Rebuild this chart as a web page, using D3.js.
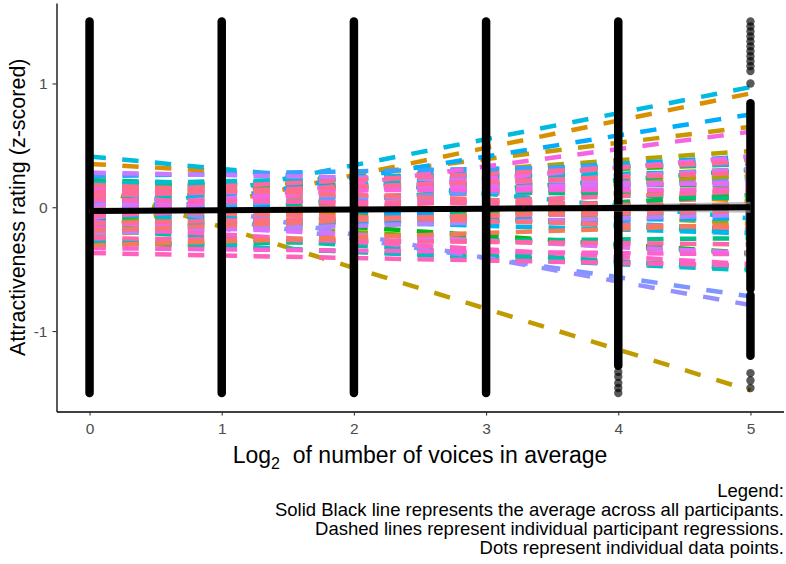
<!DOCTYPE html>
<html>
<head>
<meta charset="utf-8">
<script src="https://cdn.jsdelivr.net/npm/d3@7"></script>
<style>
  body { margin: 0; background: #fff; }
  text { font-family: "Liberation Sans", Arial, sans-serif; }
</style>
</head>
<body>
<script>
// x levels (log2 of number of voices)
const levels = [0, 1, 2, 3, 4, 5];

// participant regression lines: value at x=0 and value at x=5 (drawing order)
const lineStart = [
   0.05, -0.12,  0.14, -0.22,  0.02,  0.35, -0.18,  0.10,  0.00,  0.17,
   0.08, -0.05,  0.12, -0.15,  0.20, -0.08,  0.06, -0.28,  0.15, -0.02,
   0.18, -0.20,  0.03, -0.10,  0.22, -0.30,  0.09, -0.18,  0.13,  0.04,
  -0.26,  0.19,  0.41, -0.08, -0.06,  0.11, -0.14, -0.10,  0.07,  0.25,
  -0.03,  0.055, 0.16,  0.17, -0.21,  0.28,  0.01, -0.12,  0.10, -0.04,
  -0.09,  0.14, -0.33, -0.16, -0.37,  0.06, -0.07,  0.12, -0.13, -0.02,
  -0.25,  0.09,  0.18, -0.19, -0.31
];
const lineEnd = [
   0.15,  0.08, -0.01,  0.03, -0.18,  0.05,  0.92,  0.25,  0.65, -1.48,
   0.455, 0.25, -0.13,  0.00,  0.10, -0.38,  0.31, -0.48,  0.35, -0.37,
   0.18,  0.10, -0.07,  0.30,  0.07, -0.25, -0.21, -0.50,  0.38,  0.39,
  -0.51,  0.29, -0.09,  0.97, -0.21,  0.41, -0.09,  0.75, -0.18,  0.35,
   0.22, -0.72, -0.79, -0.03, -0.06,  0.18,  0.31, -0.37,  0.20,  0.41,
   0.61,  0.14, -0.38, -0.46, -0.47,  0.01,  0.13,  0.37, -0.03, -0.17,
  -0.30,  0.28, -0.02,  0.02, -0.14
];

// dense runs of data points (rendered as solid columns)
const runLevel = [0, 1, 2, 3, 4, 5, 5];
const runLow   = [-1.5, -1.5, -1.5, -1.5, -1.28, -0.66, -1.2];
const runHigh  = [ 1.5,  1.5,  1.5,  1.5,  1.5,   0.84, -0.71];

// isolated data points
const pointLevel = [4, 4, 4, 4, 4,
                    5, 5, 5, 5, 5, 5, 5, 5, 5, 5, 5, 5, 5, 5, 5];
const pointValue = [-1.33, -1.37, -1.42, -1.46, -1.5,
                    1.5, 1.46, 1.42, 1.38, 1.34, 1.3, 1.26, 1.22, 1.18, 1.14, 1.1,
                    1.0, -1.34, -1.4, -1.46];

// average across participants + confidence band
const avgX     = [0, 1, 2, 3, 4, 5];
const avgY     = [-0.03, -0.024, -0.018, -0.012, -0.006, 0.0];
const avgLower = [-0.05, -0.039, -0.03, -0.027, -0.034, -0.045];
const avgUpper = [-0.01, -0.009, -0.006, 0.003, 0.022, 0.045];

const yTicks = [-1, 0, 1];
const legendLines = [
  "Legend:",
  "Solid Black line represents the average across all participants.",
  "Dashed lines represent individual participant regressions.",
  "Dots represent individual data points."
];

const width = 786;
const height = 564;

// ggplot-like hue palette (polarLUV, c=100, l=65)
const hueColor = (h) => {
  const L = 65, C = 100;
  const hr = h * Math.PI / 180;
  const u = C * Math.cos(hr), v = C * Math.sin(hr);
  const Xn = 95.047, Yn = 100, Zn = 108.883;
  const Y = Yn * Math.pow((L + 16) / 116, 3);
  const den = Xn + 15 * Yn + 3 * Zn;
  const up = u / (13 * L) + 4 * Xn / den;
  const vp = v / (13 * L) + 9 * Yn / den;
  const X = 9 * Y * up / (4 * vp);
  const Z = 3 * Y / vp - X / 3 - 5 * Y;
  const x = X / 100, y = Y / 100, z = Z / 100;
  const lin = [
     3.2404542 * x - 1.5371385 * y - 0.4985314 * z,
    -0.9692660 * x + 1.8760108 * y + 0.0415560 * z,
     0.0556434 * x - 0.2040259 * y + 1.0572252 * z
  ];
  const rgb = lin.map(c => {
    const g = c <= 0.0031308 ? 12.92 * c : 1.055 * Math.pow(c, 1 / 2.4) - 0.055;
    return Math.round(Math.max(0, Math.min(1, g)) * 255);
  });
  return d3.rgb(rgb[0], rgb[1], rgb[2]).formatHex();
};

const n = lineStart.length;
// first 60 lines follow the hue wheel, the rest are extra pink/salmon ones
const colors = d3.range(n).map(i => hueColor(i < 60 ? 15 + 6 * i : 350 + 8 * (i - 60)));

const svg = d3.select("body").append("svg")
  .attr("width", width)
  .attr("height", height);

const x = d3.scaleLinear().domain([-0.25, 5.25]).range([56.5, 783.5]);
const y = d3.scaleLinear().domain([-1.65, 1.65]).range([411.5, 3]);

// dashed participant lines
const line = d3.line().x(d => x(d[0])).y(d => y(d[1]));
svg.append("g")
  .selectAll("path")
  .data(d3.range(n))
  .enter()
  .append("path")
  .attr("d", i => line([[levels[0], lineStart[i]], [levels[5], lineEnd[i]]]))
  .attr("fill", "none")
  .attr("stroke", i => colors[i])
  .attr("stroke-width", 4.5)
  .attr("stroke-dasharray", "16.4,16.4");

// data points
const dots = svg.append("g");
dots.selectAll("line")
  .data(d3.range(runLevel.length))
  .enter()
  .append("line")
  .attr("x1", i => x(runLevel[i]))
  .attr("x2", i => x(runLevel[i]))
  .attr("y1", i => y(runLow[i]))
  .attr("y2", i => y(runHigh[i]))
  .attr("stroke", "#000")
  .attr("stroke-width", 8.5)
  .attr("stroke-linecap", "round");

dots.selectAll("circle")
  .data(d3.range(pointLevel.length))
  .enter()
  .append("circle")
  .attr("cx", i => x(pointLevel[i]))
  .attr("cy", i => y(pointValue[i]))
  .attr("r", 4.2)
  .attr("fill", "#000")
  .attr("fill-opacity", 0.65);

// average line with band
const band = d3.area()
  .x((d, i) => x(avgX[i]))
  .y0((d, i) => y(avgLower[i]))
  .y1((d, i) => y(avgUpper[i]));
svg.append("path")
  .attr("d", band(avgX))
  .attr("fill", "#999")
  .attr("fill-opacity", 0.6);

svg.append("path")
  .attr("d", d3.line().x((d, i) => x(avgX[i])).y((d, i) => y(avgY[i]))(avgX))
  .attr("fill", "none")
  .attr("stroke", "#000")
  .attr("stroke-width", 6);

// axes
const axisX = d3.axisBottom(x).tickValues(levels).tickSize(4).tickSizeOuter(0)
  .tickPadding(7).tickFormat(d => String(d));
const axisY = d3.axisLeft(y).tickValues(yTicks).tickSize(4).tickSizeOuter(0)
  .tickPadding(5).tickFormat(d => String(d));

const gx = svg.append("g").attr("transform", `translate(0, ${y.range()[0]})`).call(axisX);
const gy = svg.append("g").attr("transform", `translate(${x.range()[0]}, 0)`).call(axisY);

[gx, gy].forEach(g => {
  g.select(".domain").attr("stroke", "#000").attr("stroke-width", 1.3);
  g.selectAll(".tick line").attr("stroke", "#333").attr("stroke-width", 1.1);
  g.selectAll(".tick text")
    .attr("fill", "#4d4d4d")
    .style("font-size", "15.5px")
    .style("font-family", "'Liberation Sans', Arial, sans-serif");
});

// axis titles
const xTitle = svg.append("text")
  .attr("x", (x.range()[0] + x.range()[1]) / 2)
  .attr("y", 463)
  .attr("text-anchor", "middle")
  .style("font-size", "23px")
  .attr("fill", "#000");
xTitle.append("tspan").text("Log");
xTitle.append("tspan").attr("dy", 6).style("font-size", "16px").text("2");
xTitle.append("tspan").attr("dy", -6).text("\u00a0 of number of voices in average");

svg.append("text")
  .attr("transform", `translate(25, ${(y.range()[0] + y.range()[1]) / 2}) rotate(-90)`)
  .attr("text-anchor", "middle")
  .style("font-size", "21.5px")
  .attr("fill", "#000")
  .text("Attractiveness rating (z-scored)");

// caption
svg.append("g")
  .selectAll("text")
  .data(legendLines)
  .enter()
  .append("text")
  .attr("x", 784)
  .attr("y", (d, i) => 497 + i * 19)
  .attr("text-anchor", "end")
  .style("font-size", "18.5px")
  .attr("fill", "#000")
  .text(d => d);
</script>
</body>
</html>
